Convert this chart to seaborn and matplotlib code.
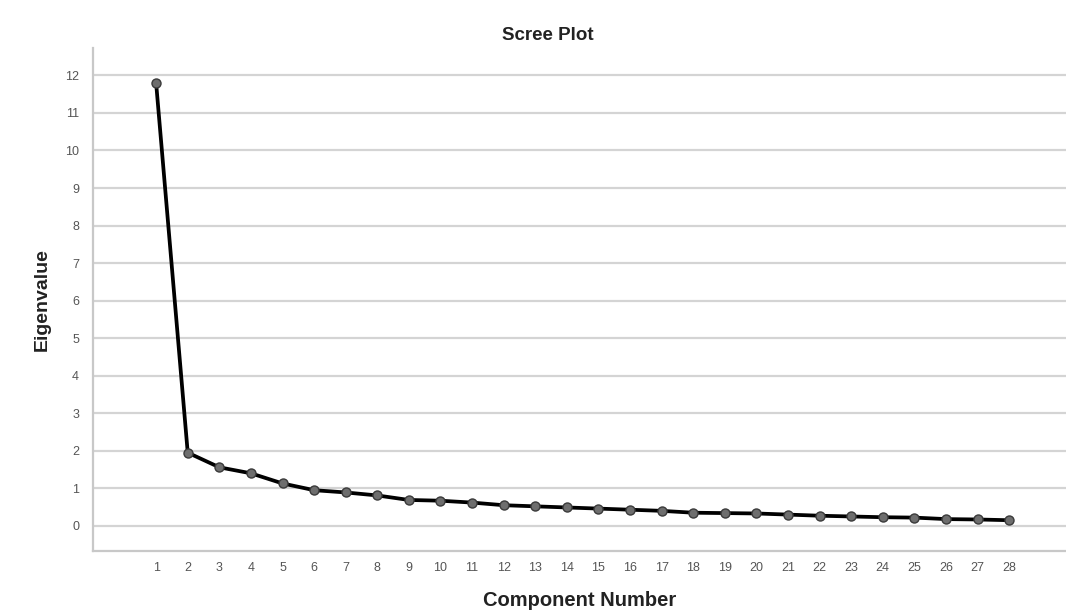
import pandas as pd
import matplotlib
matplotlib.use("Agg")
import matplotlib.pyplot as plt
import seaborn as sns

# eigenvalues
components = list(range(1, 29))
eigenvalues = [11.79, 1.95, 1.56, 1.40, 1.13, 0.95, 0.89, 0.81, 0.69, 0.67,
               0.62, 0.55, 0.52, 0.49, 0.46, 0.43, 0.40, 0.35, 0.34, 0.33,
               0.30, 0.27, 0.25, 0.23, 0.22, 0.18, 0.17, 0.15]
y_ticks = list(range(0, 13))

df = pd.DataFrame({'Component Number': components, 'Eigenvalue': eigenvalues})

sns.set_style('white')
plt.rcParams['font.family'] = ['Liberation Sans', 'DejaVu Sans']

fig = plt.figure(figsize=(10.66, 6.14), dpi=100)
ax = fig.add_axes([0.0872, 0.1026, 0.9128, 0.8192])

sns.lineplot(data=df, x='Component Number', y='Eigenvalue', ax=ax,
             color='black', linewidth=2.7, marker='o', markersize=6.5,
             markerfacecolor='#6e6e6e', markeredgecolor='#3a3a3a',
             markeredgewidth=1.0, zorder=3)

ax.set_xlim(-1.0, 29.8)
ax.set_ylim(-0.67, 12.73)
ax.set_xticks(components)
ax.set_yticks(y_ticks)
ax.tick_params(axis='both', length=0, labelsize=9, labelcolor='#555555')
ax.tick_params(axis='x', pad=8)
ax.tick_params(axis='y', pad=10)

ax.grid(axis='y', color='#d4d4d4', linewidth=1.6)
ax.grid(axis='x', visible=False)
ax.set_axisbelow(True)

for side in ['top', 'right']:
    ax.spines[side].set_visible(False)
for side in ['left', 'bottom']:
    ax.spines[side].set_color('#c8c8c8')
    ax.spines[side].set_linewidth(1.6)

# title sits a bit left of the axes centre in the original
ax.set_title('Scree Plot', fontsize=13.5, fontweight='bold', color='#222222',
             x=0.467, pad=6)
ax.set_xlabel('Component Number', fontsize=14.5, fontweight='bold', color='#222222', labelpad=12)
ax.set_ylabel('Eigenvalue', fontsize=14, fontweight='bold', color='#222222', labelpad=10)

fig.savefig('out.png', dpi=100)
